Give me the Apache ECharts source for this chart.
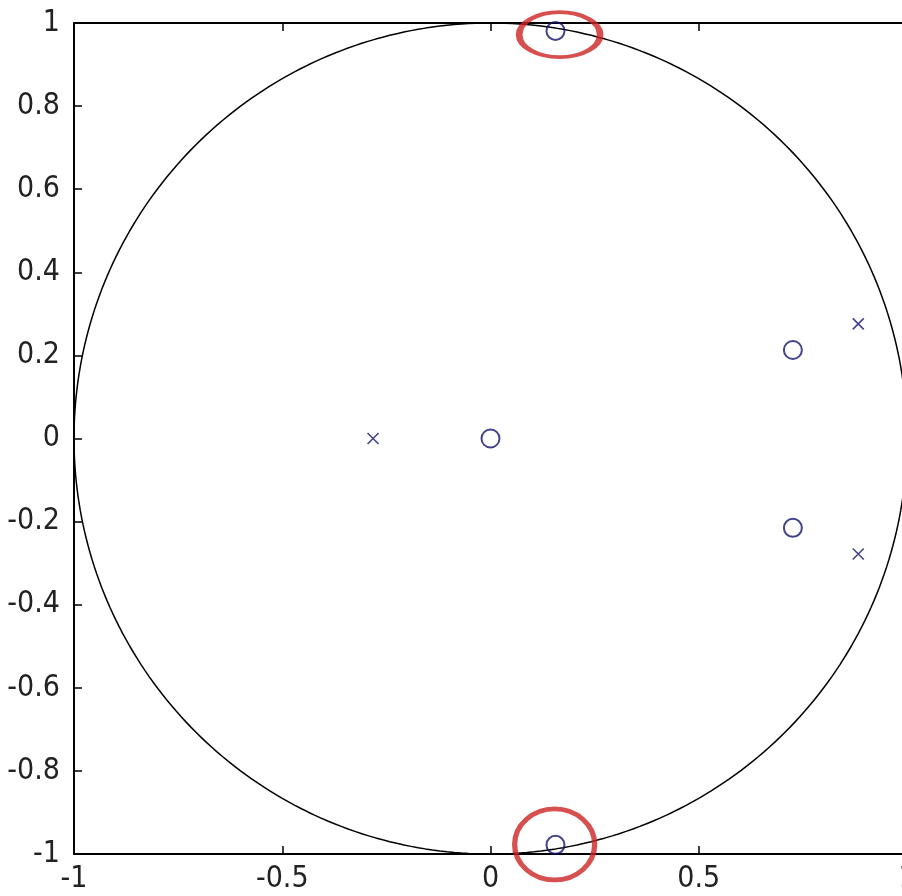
<!DOCTYPE html>
<html>
<head>
<meta charset="utf-8">
<script src="https://cdn.jsdelivr.net/npm/echarts@6/dist/echarts.min.js"></script>
<style>
html,body{margin:0;padding:0;background:#fff;}
#c{width:902px;height:896px;}
</style>
</head>
<body>
<div id="c"></div>
<script>
// Zeros (o markers)
const zerosX = [0, 0.726, 0.726, 0.156, 0.156];
const zerosY = [0, 0.213, -0.215, 0.981, -0.978];
// Poles (x markers)
const polesX = [-0.282, 0.883, 0.883];
const polesY = [0, 0.276, -0.278];
// Highlight annotations (red ellipses) centres
const highlightX = [0.166, 0.154];
const highlightY = [0.972, -0.977];
// Axis ticks
const xTicks = [-1, -0.5, 0, 0.5, 1];
const yTicks = [-1, -0.8, -0.6, -0.4, -0.2, 0, 0.2, 0.4, 0.6, 0.8, 1];

// unit circle reference (geometry, not data)
const unitCircle = [];
for (let a = 0; a <= 360; a += 1) {
  const r = a * Math.PI / 180;
  unitCircle.push([Math.cos(r), Math.sin(r)]);
}

const font = '"Liberation Sans Narrow","DejaVu Sans Condensed","Arial Narrow",sans-serif';
const navy = '#14146e';

const chart = echarts.init(document.getElementById('c'), null, {renderer: 'canvas'});
chart.setOption({
  animation: false,
  backgroundColor: '#fff',
  grid: {left: 74, top: 23, width: 833, height: 831, containLabel: false, outerBoundsMode: 'none'},
  xAxis: [{
    type: 'value', min: -1, max: 1, interval: 0.5, position: 'bottom',
    axisLine: {show: true, onZero: false, lineStyle: {color: '#000', width: 2}},
    axisTick: {show: true, inside: true, length: 8, lineStyle: {color: '#000', width: 1.5}},
    axisLabel: {color: '#222', fontSize: 30, fontFamily: font, margin: 10, hideOverlap: false,
      formatter: v => String(xTicks.find(t => Math.abs(t - v) < 1e-9) ?? v)},
    splitLine: {show: false}
  }, {
    type: 'value', min: -1, max: 1, interval: 0.5, position: 'top',
    axisLine: {show: true, onZero: false, lineStyle: {color: '#000', width: 2}},
    axisTick: {show: true, inside: true, length: 8, lineStyle: {color: '#000', width: 1.5}},
    axisLabel: {show: false},
    splitLine: {show: false}
  }],
  yAxis: [{
    type: 'value', min: -1, max: 1, interval: 0.2, position: 'left',
    axisLine: {show: true, onZero: false, lineStyle: {color: '#000', width: 2}},
    axisTick: {show: true, inside: true, length: 8, lineStyle: {color: '#000', width: 1.5}},
    axisLabel: {color: '#222', fontSize: 30, fontFamily: font, margin: 14,
      formatter: v => { const t = yTicks.find(t => Math.abs(t - v) < 1e-9); return String(t ?? v); }},
    splitLine: {show: false}
  }],
  series: [
    {
      type: 'line', data: unitCircle, showSymbol: false, symbol: 'none',
      lineStyle: {color: '#000', width: 1.5}, clip: false, z: 2
    },
    {
      type: 'scatter', data: zerosX.map((x, i) => [x, zerosY[i]]),
      symbol: 'circle', symbolSize: 18,
      itemStyle: {color: 'rgba(0,0,0,0)', borderColor: navy, borderWidth: 2}, z: 3
    },
    {
      type: 'scatter', data: polesX.map((x, i) => [x, polesY[i]]),
      symbol: 'path://M0,0L10,10M10,0L0,10', symbolSize: 11,
      itemStyle: {color: 'rgba(0,0,0,0)', borderColor: navy, borderWidth: 1.6}, z: 3
    },
    {
      type: 'scatter', clip: false,
      data: [
        {value: [highlightX[0], highlightY[0]], symbolSize: [81, 45]},
        {value: [highlightX[1], highlightY[1]], symbolSize: [80, 71]}
      ],
      symbol: 'circle',
      itemStyle: {color: 'rgba(0,0,0,0)', borderColor: '#cc2424', borderWidth: 5}, z: 4
    }
  ]
});
</script>
</body>
</html>
